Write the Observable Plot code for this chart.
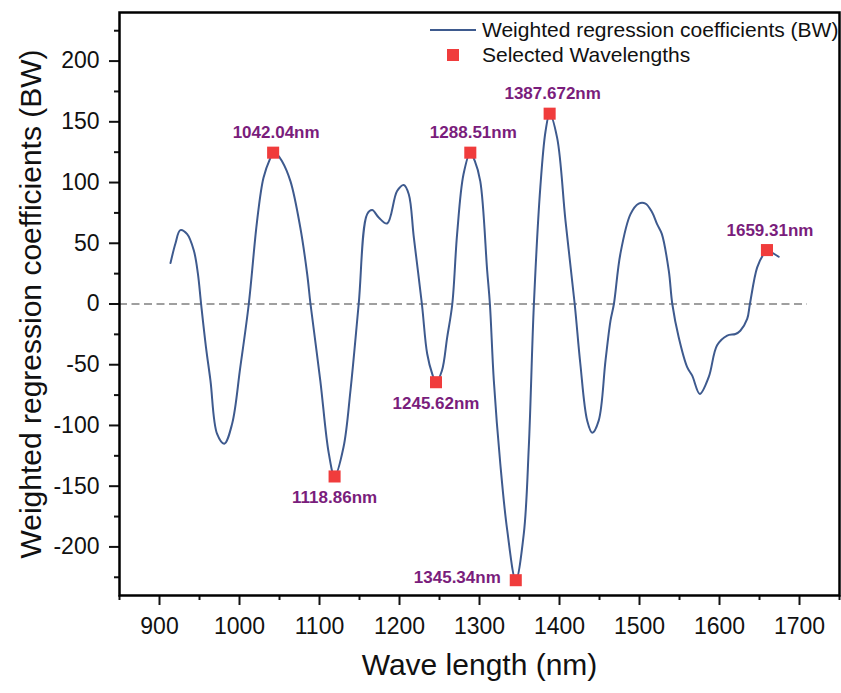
<!DOCTYPE html>
<html>
<head>
<meta charset="utf-8">
<script src="https://cdn.jsdelivr.net/npm/d3@7"></script>
<script src="https://cdn.jsdelivr.net/npm/@observablehq/plot@0.6"></script>
<style>
  html, body { margin: 0; padding: 0; background: #fff; }
  #chart { width: 841px; height: 693px; }
</style>
</head>
<body>
<div id="chart"></div>
<script>
// ---- data ----
const wavelength = [
  913.75, 920, 926, 934.6, 943, 948, 952, 958, 963.7, 972, 981, 990.8, 1001, 1011.6,
  1022, 1030, 1038.75, 1042.04, 1047, 1053, 1063.75, 1076, 1084.6, 1088.75, 1101, 1111.6,
  1118.86, 1130, 1138.75, 1149, 1159.6, 1165.9, 1174, 1184.6, 1197, 1205.4, 1211.6, 1217.9,
  1228, 1234.6, 1240.9, 1245.62, 1253, 1259.6, 1266, 1272, 1280, 1288.51, 1294, 1301,
  1309.6, 1313, 1317.9, 1326, 1334.6, 1345.34, 1355.4, 1361.6, 1368, 1376, 1382.5, 1387.672,
  1397, 1407.5, 1419, 1426, 1434.6, 1440.9, 1449, 1457.5, 1463.75, 1468, 1476, 1488.75,
  1499, 1507.5, 1515.9, 1522, 1528, 1536.6, 1541, 1549, 1559.6, 1565.9, 1575.4, 1586.6,
  1597, 1609.6, 1620, 1626, 1634.6, 1638, 1647, 1655, 1659.31, 1665.6, 1674
];
const coefficient = [
  33.7, 50, 60.8, 57.5, 43.8, 25, 0, -35, -63, -107, -115, -98.6, -52, 0,
  68.5, 104, 120.5, 124.6, 123, 117.8, 101, 63, 24.7, 0, -63, -123,
  -142, -118, -71, 0, 74, 77.3, 71.2, 66.3, 93, 98, 90.4, 54.8,
  0, -41, -57.5, -64.4, -55, -27.4, 0, 57.5, 106.8, 124.6, 118, 101,
  27.4, 0, -63, -131.5, -186, -227.4, -189, -118, 0, 95.8, 142, 156.7,
  137, 68.5, 0, -49, -96, -106, -96, -46.6, -13.7, 0, 41, 74,
  82.7, 82.7, 75.3, 65.7, 57.5, 27.4, 0, -27.4, -52, -59, -74, -60,
  -34, -26, -24.7, -22, -12.3, 0, 30, 41, 44.4, 42.4, 38.9
];
const selectedWavelength = [1042.04, 1118.86, 1245.62, 1288.51, 1345.34, 1387.672, 1659.31];
const selectedCoefficient = [124.6, -142, -64.4, 124.6, -227.4, 156.7, 44.4];
const selectedLabel = ["1042.04nm", "1118.86nm", "1245.62nm", "1288.51nm", "1345.34nm", "1387.672nm", "1659.31nm"];

const xTicks = [900, 1000, 1100, 1200, 1300, 1400, 1500, 1600, 1700];
const xMinorTicks = [850, 950, 1050, 1150, 1250, 1350, 1450, 1550, 1650, 1750];
const yTicks = [-200, -150, -100, -50, 0, 50, 100, 150, 200];
const yMinorTicks = [-225, -175, -125, -75, -25, 25, 75, 125, 175, 225];
const xDomain = [850, 1750];
const yDomain = [-240, 240];
const zeroLineRange = [850, 1710];

const xLabel = "Wave length (nm)";
const yLabel = "Weighted regression coefficients (BW)";
const legendLine = "Weighted regression coefficients (BW)";
const legendPoints = "Selected Wavelengths";

// ---- tables built from arrays ----
const series = wavelength.map((w, i) => ({w, v: coefficient[i]}));
const selected = selectedWavelength.map((w, i) => ({w, v: selectedCoefficient[i], label: selectedLabel[i]}));
const minV = d3.min(selectedCoefficient);
const above = selected.filter(d => d.v > 0);
const below = selected.filter(d => d.v < 0 && d.v !== minV);
const leftOf = selected.filter(d => d.v === minV);

const LINE = "#3e5a8e";
const RED = "#f03c3c";
const PURPLE = "#7a1d7c";
const FONT = "Arial, 'Liberation Sans', sans-serif";

const chart = Plot.plot({
  width: 841,
  height: 693,
  marginLeft: 119,
  marginRight: 2,
  marginTop: 12,
  marginBottom: 98,
  x: {domain: xDomain},
  y: {domain: yDomain},
  style: {fontFamily: FONT, fontSize: "23px", background: "white", color: "#111"},
  marks: [
    Plot.ruleY([0], {x1: zeroLineRange[0], x2: zeroLineRange[1], stroke: "#808080", strokeWidth: 1.6, strokeDasharray: "8,4.5"}),
    Plot.line(series, {x: "w", y: "v", stroke: LINE, strokeWidth: 2, curve: "catmull-rom"}),
    Plot.dot(selected, {x: "w", y: "v", symbol: "square", r: 6.8, fill: RED, stroke: null}),
    Plot.text(above, {x: "w", y: "v", text: "label", dy: -20, dx: 3, fill: PURPLE, fontWeight: "bold", fontSize: 17}),
    Plot.text(below, {x: "w", y: "v", text: "label", dy: 21, fill: PURPLE, fontWeight: "bold", fontSize: 17}),
    Plot.text(leftOf, {x: "w", y: "v", text: "label", dx: -15, dy: -3, textAnchor: "end", fill: PURPLE, fontWeight: "bold", fontSize: 17}),
    Plot.axisX({ticks: xTicks, tickSize: 10, tickPadding: 12, strokeWidth: 2, label: null, tickFormat: d => String(d)}),
    Plot.axisX({ticks: xMinorTicks, tickSize: 5, strokeWidth: 2, label: null, tickFormat: () => ""}),
    Plot.axisY({ticks: yTicks, tickSize: 10, tickPadding: 10, strokeWidth: 2, label: null, tickFormat: d => String(d)}),
    Plot.axisY({ticks: yMinorTicks, tickSize: 5, strokeWidth: 2, label: null, tickFormat: () => ""}),
    Plot.frame({stroke: "black", strokeWidth: 2.5}),
    Plot.text([xLabel], {text: d => d, frameAnchor: "bottom", textAnchor: "middle", dy: 79, fontSize: 30, fill: "#111"}),
    Plot.text([yLabel], {text: d => d, frameAnchor: "left", textAnchor: "middle", dx: -88, rotate: -90, fontSize: 30, fill: "#111"})
  ]
});

// ---- legend inside the frame (top right) ----
const svg = d3.select(chart);
const lg = svg.append("g").attr("font-family", FONT).attr("font-size", 21).attr("fill", "#111").attr("text-anchor", "start");
lg.append("line").attr("x1", 430).attr("x2", 476).attr("y1", 30).attr("y2", 30)
  .attr("stroke", LINE).attr("stroke-width", 2);
lg.append("rect").attr("x", 447).attr("y", 49).attr("width", 12).attr("height", 12).attr("fill", RED);
lg.append("text").attr("x", 482).attr("y", 30).attr("dy", "0.35em").text(legendLine);
lg.append("text").attr("x", 482).attr("y", 55).attr("dy", "0.35em").text(legendPoints);

document.getElementById("chart").appendChild(chart);
</script>
</body>
</html>
